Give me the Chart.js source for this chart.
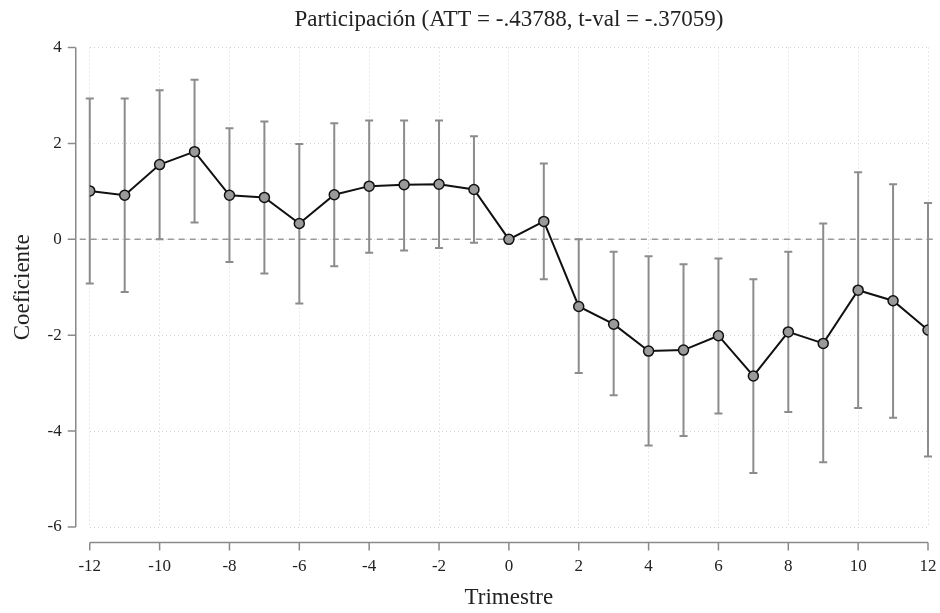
<!DOCTYPE html>
<html>
<head>
<meta charset="utf-8">
<script src="https://cdn.jsdelivr.net/npm/chart.js@4"></script>
<style>
    html, body { margin: 0; padding: 0; background: #fff; overflow: hidden; }
</style>
</head>
<body>
<canvas id="eventChart" width="940" height="613"></canvas>
<script>
// event-study estimates
const quarters = [-12, -11, -10, -9, -8, -7, -6, -5, -4, -3, -2, -1, 0, 1, 2, 3, 4, 5, 6, 7, 8, 9, 10, 11, 12];
const coef  = [1.01, 0.92, 1.56, 1.83, 0.92, 0.875, 0.33, 0.93, 1.11, 1.14, 1.15, 1.04, 0, 0.375, -1.40, -1.77, -2.33, -2.31, -2.01, -2.85, -1.93, -2.17, -1.06, -1.28, -1.89];
const upper = [2.94, 2.94, 3.11, 3.33, 2.32, 2.46, 1.99, 2.42, 2.48, 2.48, 2.48, 2.15, null, 1.58, 0.00, -0.26, -0.35, -0.52, -0.40, -0.83, -0.26, 0.33, 1.40, 1.15, 0.76];
const lower = [-0.92, -1.10, 0.00, 0.35, -0.47, -0.71, -1.34, -0.56, -0.28, -0.23, -0.18, -0.07, null, -0.83, -2.79, -3.25, -4.30, -4.10, -3.63, -4.875, -3.60, -4.65, -3.52, -3.72, -4.53];

const titleText = 'Participación (ATT = -.43788, t-val = -.37059)';
const serif = "'Liberation Serif', 'DejaVu Serif', serif";

// zero line + confidence intervals, under the line
const ciPlugin = {
    id: 'ciBars',
    beforeDatasetsDraw(chart) {
        const ctx = chart.ctx;
        const x = chart.scales.x, y = chart.scales.y;
        const area = chart.chartArea;
        ctx.save();
        // dashed reference line at 0
        ctx.strokeStyle = '#9a9a9a';
        ctx.lineWidth = 1.5;
        ctx.setLineDash([6, 5]);
        ctx.beginPath();
        ctx.moveTo(area.left - 10, y.getPixelForValue(0));
        ctx.lineTo(area.right + 8, y.getPixelForValue(0));
        ctx.stroke();
        ctx.setLineDash([]);
        // error bars
        ctx.strokeStyle = '#8c8c8c';
        ctx.lineWidth = 2;
        for (let i = 0; i < quarters.length; i++) {
            if (upper[i] === null) continue;
            const px = x.getPixelForValue(quarters[i]);
            const top = y.getPixelForValue(upper[i]);
            const bot = y.getPixelForValue(lower[i]);
            ctx.beginPath();
            ctx.moveTo(px, top); ctx.lineTo(px, bot);
            ctx.moveTo(px - 4, top); ctx.lineTo(px + 4, top);
            ctx.moveTo(px - 4, bot); ctx.lineTo(px + 4, bot);
            ctx.stroke();
        }
        ctx.restore();
    },
    // stata style axes, set off from the plot region
    afterDraw(chart) {
        const ctx = chart.ctx;
        const x = chart.scales.x, y = chart.scales.y;
        const area = chart.chartArea;
        ctx.save();
        ctx.strokeStyle = '#8a8a8a';
        ctx.lineWidth = 1.5;
        const ax = area.left - 14;
        ctx.beginPath();
        ctx.moveTo(ax, y.getPixelForValue(4));
        ctx.lineTo(ax, y.getPixelForValue(-6));
        y.ticks.forEach(t => {
            const py = y.getPixelForValue(t.value);
            ctx.moveTo(ax, py); ctx.lineTo(ax - 8, py);
        });
        const ay = area.bottom + 15.5;
        ctx.moveTo(x.getPixelForValue(-12), ay);
        ctx.lineTo(x.getPixelForValue(12), ay);
        x.ticks.forEach(t => {
            const px = x.getPixelForValue(t.value);
            ctx.moveTo(px, ay); ctx.lineTo(px, ay + 8);
        });
        ctx.stroke();
        ctx.restore();
    }
};

const eventCtx = document.getElementById('eventChart').getContext('2d');
const eventChart = new Chart(eventCtx, {
    type: 'line',
    data: {
        labels: quarters,
        datasets: [{
            label: 'Coeficiente',
            data: quarters.map((q, i) => ({ x: q, y: coef[i] })),
            borderColor: '#111',
            borderWidth: 2,
            pointRadius: 5,
            pointBackgroundColor: '#9a9a9a',
            pointBorderColor: '#111',
            pointBorderWidth: 1.5,
            tension: 0,
            fill: false
        }]
    },
    options: {
        responsive: false,
        animation: false,
        devicePixelRatio: 1,
        layout: {
            padding: { left: 9, right: 12, top: 0, bottom: 1 }
        },
        plugins: {
            legend: { display: false },
            tooltip: { enabled: false },
            title: {
                display: true,
                text: titleText,
                fullSize: false,
                color: '#222',
                font: { family: serif, size: 23, weight: 'normal' },
                padding: { top: 6, bottom: 14 }
            }
        },
        scales: {
            x: {
                type: 'linear',
                min: -12,
                max: 12,
                // tick marks hidden: the long transparent tick just spaces the labels
                grid: { color: '#d2d2d2', lineWidth: 1, drawTicks: true, tickLength: 29, tickColor: 'rgba(0,0,0,0)' },
                border: { display: false, dash: [1, 3] },
                ticks: {
                    stepSize: 2,
                    padding: 0,
                    maxRotation: 0,
                    minRotation: 0,
                    autoSkip: false,
                    color: '#222',
                    font: { family: serif, size: 17 }
                },
                title: {
                    display: true,
                    text: 'Trimestre',
                    color: '#222',
                    font: { family: serif, size: 23 },
                    padding: { top: 8, bottom: 0 }
                }
            },
            y: {
                min: -6,
                max: 4,
                grid: { color: '#d2d2d2', lineWidth: 1, drawTicks: true, tickLength: 28, tickColor: 'rgba(0,0,0,0)' },
                border: { display: false, dash: [1, 3] },
                ticks: {
                    stepSize: 2,
                    padding: 0,
                    color: '#222',
                    font: { family: serif, size: 17 }
                },
                title: {
                    display: true,
                    text: 'Coeficiente',
                    color: '#222',
                    font: { family: serif, size: 23 },
                    padding: { top: 0, bottom: 11 }
                }
            }
        }
    },
    plugins: [ciPlugin]
});
</script>
</body>
</html>
